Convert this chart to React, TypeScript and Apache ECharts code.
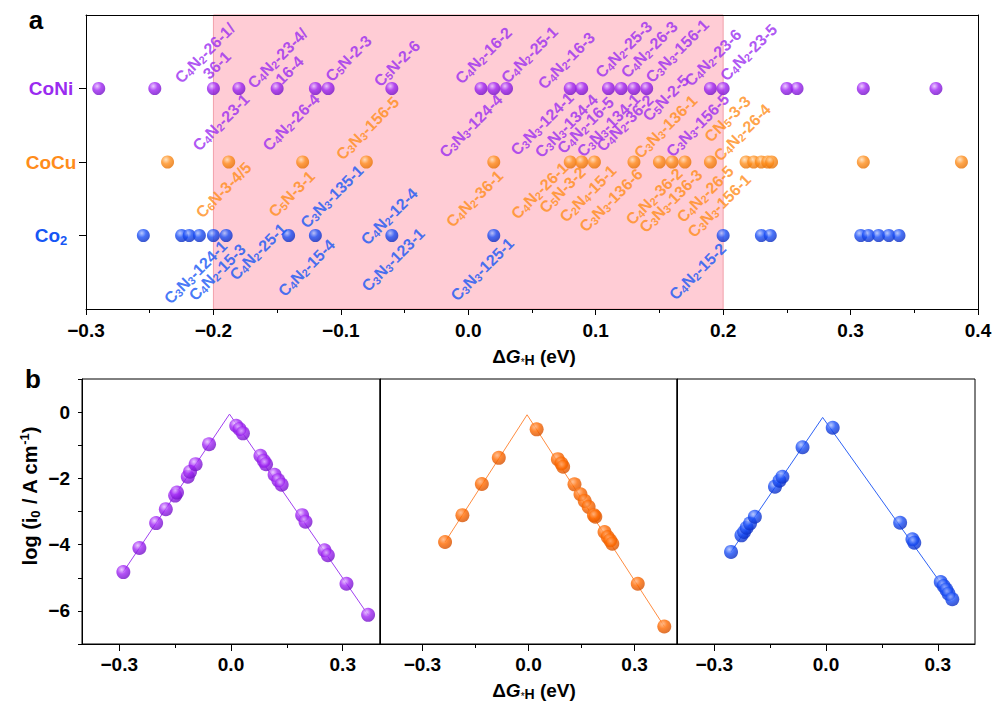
import React, { useEffect, useRef } from 'react';
import * as echarts from 'echarts';

// ---------- panel a: ΔG*H values per catalyst row ----------
const rowNames = ['Co2', 'CoCu', 'CoNi'];
const rowLevels = [1, 2, 3];
const coNiX = [-0.29, -0.246, -0.2, -0.18, -0.15, -0.12, -0.11, -0.06, 0.01, 0.02, 0.03, 0.08, 0.089, 0.11, 0.12, 0.13, 0.14, 0.19, 0.2, 0.25, 0.258, 0.31, 0.367];
const coCuX = [-0.236, -0.188, -0.13, -0.08, 0.02, 0.08, 0.089, 0.099, 0.13, 0.15, 0.16, 0.17, 0.19, 0.218, 0.224, 0.23, 0.235, 0.238, 0.31, 0.387];
const co2X = [-0.255, -0.225, -0.219, -0.211, -0.2, -0.19, -0.141, -0.12, -0.06, 0.02, 0.2, 0.23, 0.237, 0.308, 0.314, 0.322, 0.33, 0.338];
const optimalRange = [-0.2, 0.2];
const topXTicks = [-0.3, 0.4, 0.1];

// annotation labels: [text, ΔG anchor, row-level anchor]
const coNiLabels: [string, number, number][] = [
  ['C4N2-26-1/\n36-1', -0.202, 3.40],
  ['C4N2-23-4/\n16-4', -0.145, 3.33],
  ['C5N-2-3', -0.094, 3.41],
  ['C5N-2-6', -0.056, 3.34],
  ['C4N2-23-1', -0.194, 2.54],
  ['C4N2-26-4', -0.139, 2.54],
  ['C4N2-16-2', 0.012, 3.45],
  ['C4N2-25-1', 0.048, 3.46],
  ['C3N3-124-4', 0.002, 2.49],
  ['C4N2-16-3', 0.077, 3.38],
  ['C3N3-124-1', 0.058, 2.52],
  ['C3N3-134-4', 0.077, 2.49],
  ['C4N2-16-5', 0.092, 2.50],
  ['C3N3-134-1', 0.110, 2.50],
  ['C4N2-36-2', 0.123, 2.53],
  ['C5N-2-5', 0.155, 2.87],
  ['C3N3-156-5', 0.180, 2.50],
  ['C4N2-25-3', 0.122, 3.53],
  ['C4N2-26-3', 0.142, 3.53],
  ['C3N3-156-1', 0.164, 3.51],
  ['C4N2-23-6', 0.192, 3.42],
  ['C4N2-23-5', 0.220, 3.49],
];
const coCuLabels: [string, number, number][] = [
  ['C3N3-156-5', -0.079, 2.46],
  ['C3N3-136-1', 0.155, 2.48],
  ['CN5-3-3', 0.2035, 2.585],
  ['C4N2-26-4', 0.215, 2.40],
  ['C6N-3-4/5', -0.192, 1.62],
  ['C5N-3-1', -0.1385, 1.565],
  ['C4N2-36-1', 0.005, 1.50],
  ['C4N2-26-1', 0.056, 1.61],
  ['C5N-3-2', 0.074, 1.62],
  ['C2N4-15-1', 0.094, 1.57],
  ['C3N3-136-6', 0.112, 1.48],
  ['C4N2-36-2', 0.146, 1.53],
  ['C3N3-136-3', 0.159, 1.47],
  ['C4N2-26-5', 0.186, 1.565],
  ['C3N3-156-1', 0.197, 1.405],
];
const co2Labels: [string, number, number][] = [
  ['C3N3-135-1', -0.107, 1.53],
  ['C4N2-12-4', -0.062, 1.26],
  ['C3N3-124-1', -0.214, 0.50],
  ['C4N2-15-3', -0.197, 0.50],
  ['C4N2-25-1', -0.165, 0.78],
  ['C4N2-15-4', -0.127, 0.56],
  ['C3N3-123-1', -0.059, 0.67],
  ['C3N3-125-1', 0.011, 0.54],
  ['C4N2-15-2', 0.180, 0.51],
];

// ---------- panel b: volcano plots ----------
const niVX = [-0.289, -0.246, -0.201, -0.175, -0.150, -0.145, -0.116, -0.110, -0.095, -0.059, 0.014, 0.023, 0.032, 0.079, 0.088, 0.094, 0.117, 0.127, 0.136, 0.191, 0.200, 0.251, 0.260, 0.310, 0.368];
const niVY = [-4.83, -4.10, -3.35, -2.93, -2.52, -2.43, -1.95, -1.80, -1.57, -0.97, -0.41, -0.51, -0.64, -1.32, -1.47, -1.57, -1.89, -2.06, -2.19, -3.11, -3.31, -4.17, -4.32, -5.18, -6.12];
const niLine = [[-0.289, -4.82], [-0.004, -0.06], [0.368, -6.12]];

const cuVX = [-0.236, -0.187, -0.132, -0.084, 0.023, 0.083, 0.093, 0.098, 0.130, 0.147, 0.159, 0.170, 0.185, 0.189, 0.215, 0.224, 0.231, 0.237, 0.309, 0.384];
const cuVY = [-3.92, -3.11, -2.17, -1.38, -0.52, -1.42, -1.55, -1.65, -2.18, -2.48, -2.68, -2.86, -3.11, -3.16, -3.62, -3.77, -3.87, -3.97, -5.18, -6.47];
const cuLine = [[-0.236, -3.92], [-0.004, -0.08], [0.384, -6.47]];

const coVX = [-0.255, -0.227, -0.220, -0.213, -0.204, -0.191, -0.137, -0.125, -0.117, -0.063, 0.018, 0.199, 0.232, 0.237, 0.308, 0.316, 0.323, 0.329, 0.339];
const coVY = [-4.22, -3.72, -3.62, -3.49, -3.36, -3.16, -2.25, -2.07, -1.95, -1.06, -0.47, -3.34, -3.84, -3.94, -5.13, -5.25, -5.36, -5.48, -5.65];
const coLine = [[-0.255, -4.22], [-0.009, -0.16], [0.339, -5.65]];

const volcanoXTicks = [-0.3, 0, 0.3];
const volcanoXMinor = [-0.15, 0.15];
const volcanoY = [-7, 1, 1];

// ---------- styles ----------
const FONT = "'Liberation Sans', Arial, Helvetica, sans-serif";
const PURPLE = '#9A2BF0';
const ORANGE = '#FF8C1A';
const BLUE = '#1656F5';

const ball = (hi: string, mid: string, lo: string) => ({
  type: 'radial', x: 0.38, y: 0.32, r: 0.72,
  colorStops: [
    { offset: 0, color: hi },
    { offset: 0.45, color: mid },
    { offset: 1, color: lo },
  ],
});
const purpleBall = ball('#E6BFFF', '#A126F5', '#7010C4');
const orangeBall = ball('#FFDDB5', '#FF901F', '#E46E00');
const orangeBall2 = ball('#FFB07A', '#FF6A00', '#D24E00');
const blueBall = ball('#A8BCFF', '#1A4FF7', '#0A2BBE');

const num = (v: number) => {
  const r = Math.round(v * 10) / 10;
  return (r < 0 ? '\u2212' : '') + Math.abs(r).toFixed(1);
};

function chem(s: string): string {
  return s.split('\n').map((line, li) => {
    const i = line.indexOf('-');
    if (li > 0 || i < 0) return `{n|${line}}`;
    const head = line.slice(0, i);
    const tail = line.slice(i);
    let out = '';
    for (const ch of head) out += /\d/.test(ch) ? `{s|${ch}}` : `{n|${ch}}`;
    return out + `{n|${tail}}`;
  }).join('\n');
}

const labelSeries = (labels: [string, number, number][], color: string) => ({
  type: 'scatter',
  xAxisIndex: 0, yAxisIndex: 0,
  z: 5,
  silent: true,
  symbol: 'circle',
  symbolSize: 1,
  itemStyle: { color: 'rgba(0,0,0,0)' },
  data: labels.map(([t, x, y]) => ({ name: t, value: [x, y] })),
  label: {
    show: true,
    position: 'inside',
    rotate: 45,
    align: 'center',
    verticalAlign: 'middle',
    color,
    textBorderWidth: 0,
    formatter: (p: any) => chem(p.name),
    rich: {
      n: { fontSize: 16, fontWeight: 'bold', fontFamily: FONT, color, lineHeight: 17 },
      s: { fontSize: 11, fontWeight: 'bold', fontFamily: FONT, color, lineHeight: 8, verticalAlign: 'bottom' },
    },
  },
});

const tickLabel = { fontSize: 19, fontWeight: 'bold', fontFamily: FONT, color: '#000' };
const blackLine = { show: true, lineStyle: { color: '#000', width: 1 } };

function volcanoX(grid: number, min: number, max: number) {
  return [
    {
      type: 'value', gridIndex: grid, min, max, z: 10,
      axisLine: { ...blackLine, onZero: false },
      axisTick: { show: true, inside: false, length: 7, customValues: volcanoXTicks, lineStyle: { color: '#000' } },
      axisLabel: { show: true, customValues: volcanoXTicks, margin: 11, formatter: num, ...tickLabel },
      splitLine: { show: false },
    },
    {
      type: 'value', gridIndex: grid, min, max, z: 10, position: 'bottom',
      axisLine: { show: false, onZero: false },
      axisTick: { show: true, inside: false, length: 4, customValues: volcanoXMinor, lineStyle: { color: '#000' } },
      axisLabel: { show: false },
      splitLine: { show: false },
    },
  ];
}

function volcanoYAxis(grid: number, labels: boolean) {
  return {
    type: 'value', gridIndex: grid, min: volcanoY[0], max: volcanoY[1], interval: volcanoY[2], z: 10,
    axisLine: { ...blackLine, onZero: false },
    axisTick: { show: labels, inside: false, length: 4, lineStyle: { color: '#000' } },
    axisLabel: {
      show: labels, margin: 12, ...tickLabel,
      formatter: (v: number) => {
        const r = Math.round(v);
        if (r % 2 !== 0 || r > 0) return '';
        return (r < 0 ? '\u2212' : '') + Math.abs(r);
      },
    },
    splitLine: { show: false },
  };
}

const rowLabelText: Record<number, string> = {
  3: '{ni|CoNi}',
  2: '{cu|CoCu}',
  1: '{co|Co}{cs|2}',
};

export default function App() {
  const ref = useRef<HTMLDivElement>(null);
  useEffect(() => {
    if (!ref.current) return;
    const chart = echarts.init(ref.current, undefined, { renderer: 'svg' });
    const option: any = {
      animation: false,
      backgroundColor: '#fff',
      grid: [
        { left: 86, top: 15, width: 892, height: 294 },
        { left: 82, top: 379, width: 298, height: 265, show: true, borderColor: '#000', borderWidth: 1, backgroundColor: 'transparent' },
        { left: 380, top: 379, width: 297, height: 265, show: true, borderColor: '#000', borderWidth: 1, backgroundColor: 'transparent' },
        { left: 677, top: 379, width: 298, height: 265, show: true, borderColor: '#000', borderWidth: 1, backgroundColor: 'transparent' },
      ],
      xAxis: [
        {
          type: 'value', gridIndex: 0, min: topXTicks[0], max: topXTicks[1], interval: topXTicks[2], z: 10,
          axisLine: { ...blackLine, onZero: false },
          axisTick: { show: true, inside: false, length: 6, lineStyle: { color: '#000' } },
          minorTick: { show: true, splitNumber: 2, length: 4, lineStyle: { color: '#000' } },
          axisLabel: { margin: 12, formatter: num, ...tickLabel },
          splitLine: { show: false },
        },
        {
          type: 'value', gridIndex: 0, min: topXTicks[0], max: topXTicks[1], position: 'top', z: 10,
          axisLine: { ...blackLine, onZero: false },
          axisTick: { show: false }, axisLabel: { show: false }, splitLine: { show: false },
        },
        ...volcanoX(1, -0.4, 0.4),
        ...volcanoX(2, -0.42, 0.42),
        ...volcanoX(3, -0.4, 0.4),
      ],
      yAxis: [
        {
          type: 'value', gridIndex: 0, min: 0, max: 4, z: 10,
          axisLine: { ...blackLine, onZero: false },
          axisTick: { show: true, inside: false, length: 7, customValues: rowLevels, lineStyle: { color: '#000' } },
          axisLabel: {
            show: true, customValues: rowLevels, margin: 35, align: 'center',
            formatter: (v: number) => rowLabelText[Math.round(v)] || '',
            rich: {
              ni: { fontSize: 19, fontWeight: 'bold', fontFamily: FONT, color: PURPLE, lineHeight: 22 },
              cu: { fontSize: 19, fontWeight: 'bold', fontFamily: FONT, color: ORANGE, lineHeight: 22 },
              co: { fontSize: 19, fontWeight: 'bold', fontFamily: FONT, color: BLUE, lineHeight: 22 },
              cs: { fontSize: 13, fontWeight: 'bold', fontFamily: FONT, color: BLUE, lineHeight: 9, verticalAlign: 'bottom' },
            },
          },
          splitLine: { show: false },
        },
        {
          type: 'value', gridIndex: 0, min: 0, max: 4, position: 'right', z: 10,
          axisLine: { ...blackLine, onZero: false },
          axisTick: { show: false }, axisLabel: { show: false }, splitLine: { show: false },
        },
        volcanoYAxis(1, true),
        volcanoYAxis(2, false),
        volcanoYAxis(3, false),
      ],
      series: [
        {
          type: 'scatter', xAxisIndex: 0, yAxisIndex: 0, z: 1, silent: true, data: [],
          markArea: {
            silent: true,
            itemStyle: { color: '#FFCCD5', borderColor: '#F2A0AA', borderWidth: 1 },
            data: [[{ xAxis: optimalRange[0] }, { xAxis: optimalRange[1] }]],
          },
        },
        {
          name: rowNames[2], type: 'scatter', xAxisIndex: 0, yAxisIndex: 0, z: 3, symbolSize: 13,
          itemStyle: { color: purpleBall },
          data: coNiX.map((x) => [x, rowLevels[2]]),
        },
        {
          name: rowNames[1], type: 'scatter', xAxisIndex: 0, yAxisIndex: 0, z: 3, symbolSize: 13,
          itemStyle: { color: orangeBall },
          data: coCuX.map((x) => [x, rowLevels[1]]),
        },
        {
          name: rowNames[0], type: 'scatter', xAxisIndex: 0, yAxisIndex: 0, z: 3, symbolSize: 13,
          itemStyle: { color: blueBall },
          data: co2X.map((x) => [x, rowLevels[0]]),
        },
        labelSeries(coNiLabels, PURPLE),
        labelSeries(coCuLabels, ORANGE),
        labelSeries(co2Labels, BLUE),
        {
          type: 'line', xAxisIndex: 2, yAxisIndex: 2, z: 2, showSymbol: false, silent: true,
          lineStyle: { color: '#A040F0', width: 1 }, data: niLine,
        },
        {
          type: 'scatter', xAxisIndex: 2, yAxisIndex: 2, z: 3, symbolSize: 14,
          itemStyle: { color: purpleBall }, data: niVX.map((x, i) => [x, niVY[i]]),
        },
        {
          type: 'line', xAxisIndex: 4, yAxisIndex: 3, z: 2, showSymbol: false, silent: true,
          lineStyle: { color: '#FF8C40', width: 1 }, data: cuLine,
        },
        {
          type: 'scatter', xAxisIndex: 4, yAxisIndex: 3, z: 3, symbolSize: 14,
          itemStyle: { color: orangeBall2 }, data: cuVX.map((x, i) => [x, cuVY[i]]),
        },
        {
          type: 'line', xAxisIndex: 6, yAxisIndex: 4, z: 2, showSymbol: false, silent: true,
          lineStyle: { color: '#2E62F5', width: 1 }, data: coLine,
        },
        {
          type: 'scatter', xAxisIndex: 6, yAxisIndex: 4, z: 3, symbolSize: 14,
          itemStyle: { color: blueBall }, data: coVX.map((x, i) => [x, coVY[i]]),
        },
      ],
      graphic: [
        { type: 'text', x: 36, y: 20, style: { text: 'a', fontSize: 26, fontWeight: 'bold', fontFamily: FONT, fill: '#000', align: 'center', verticalAlign: 'middle' } },
        { type: 'text', x: 33, y: 379, style: { text: 'b', fontSize: 26, fontWeight: 'bold', fontFamily: FONT, fill: '#000', align: 'center', verticalAlign: 'middle' } },
        ...[356, 690].map((yy) => ({
          type: 'text', x: 534, y: yy,
          style: {
            text: '{d|\u0394}{g|G}{st|*}{h|H}{d| (eV)}',
            align: 'center', verticalAlign: 'middle',
            rich: {
              d: { fontSize: 19, fontWeight: 'bold', fontFamily: FONT, fill: '#000', lineHeight: 22 },
              g: { fontSize: 19, fontWeight: 'bold', fontStyle: 'italic', fontFamily: FONT, fill: '#000', lineHeight: 22 },
              st: { fontSize: 10, fontFamily: FONT, fill: '#000', lineHeight: 14, verticalAlign: 'bottom' },
              h: { fontSize: 14, fontWeight: 'bold', fontFamily: FONT, fill: '#000', lineHeight: 15, verticalAlign: 'bottom' },
            },
          },
        })),
        {
          type: 'text', x: 30, y: 496, rotation: Math.PI / 2,
          style: {
            text: '{n|log (i}{s|0}{n| / A cm}{p|-1}{n|)}',
            align: 'center', verticalAlign: 'middle',
            rich: {
              n: { fontSize: 20, fontWeight: 'bold', fontFamily: FONT, fill: '#000', lineHeight: 24 },
              s: { fontSize: 13, fontWeight: 'bold', fontFamily: FONT, fill: '#000', lineHeight: 10, verticalAlign: 'bottom' },
              p: { fontSize: 13, fontWeight: 'bold', fontFamily: FONT, fill: '#000', lineHeight: 18, verticalAlign: 'top' },
            },
          },
        },
      ],
    };
    chart.setOption(option);
    return () => chart.dispose();
  }, []);
  return (
    <div
      ref={ref}
      style={{ position: 'fixed', left: 0, top: 0, width: 1001, height: 725, background: '#fff' }}
    />
  );
}
